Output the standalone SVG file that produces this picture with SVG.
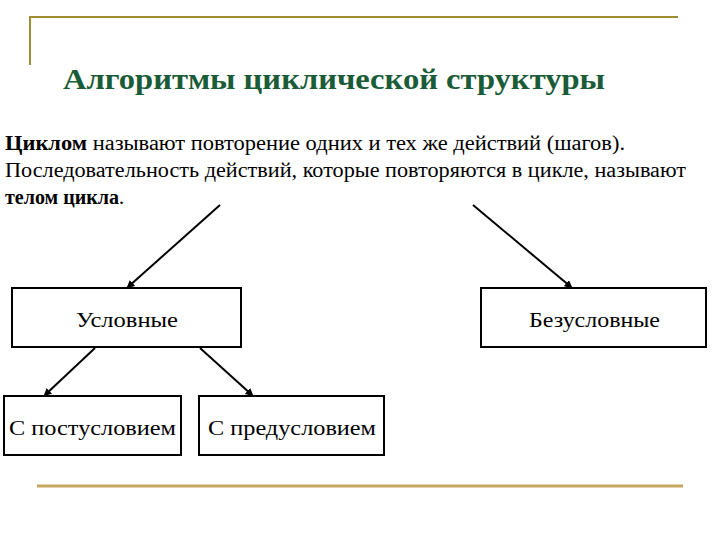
<svg xmlns="http://www.w3.org/2000/svg" width="720" height="540" viewBox="0 0 720 540">
<style>
.t{font-family:"Liberation Serif","Times New Roman","DejaVu Serif",serif;font-size:20px;fill:#000}
.l{font-size:22px}
.b{font-weight:bold}
.box{fill:#fff;stroke:#000;stroke-width:2}
.c line{stroke:#000;stroke-width:2;marker-end:url(#a)}
</style>
<defs><marker id="a" markerWidth="8" markerHeight="8" refX="6" refY="4" orient="auto" markerUnits="userSpaceOnUse"><path d="M0,0 L8,4 L0,8 z" fill="#000"/></marker></defs>
<rect width="720" height="540" fill="#fff"/>
<path d="M30,65 V17 H678" fill="none" stroke="#a08c30" stroke-width="2"/>
<line x1="37" y1="486" x2="683" y2="486" stroke="#c8a860" stroke-width="3"/>
<text x="63" y="89" textLength="542" lengthAdjust="spacingAndGlyphs" font-family="'Liberation Serif','Times New Roman','DejaVu Serif',serif" font-size="29" font-weight="bold" fill="#1a5c38">Алгоритмы циклической структуры</text>
<text class="t" x="5" y="150" textLength="620" lengthAdjust="spacingAndGlyphs"><tspan class="b">Циклом</tspan> называют повторение одних и тех же действий (шагов).</text>
<text class="t" x="5" y="177" textLength="681" lengthAdjust="spacingAndGlyphs">Последовательность действий, которые повторяются в цикле, называют</text>
<text class="t" x="5" y="204"><tspan class="b">телом цикла</tspan>.</text>
<g class="c">
<line x1="220" y1="205" x2="128" y2="287"/>
<line x1="473" y1="205" x2="571" y2="287"/>
<line x1="95" y1="348" x2="45" y2="395"/>
<line x1="200" y1="348" x2="252" y2="395"/>
</g>
<g id="n1"><rect class="box" x="12" y="288" width="229" height="59"/><text class="t l" x="76" y="327" textLength="102" lengthAdjust="spacingAndGlyphs">Условные</text></g>
<g id="n2"><rect class="box" x="481" y="288" width="225" height="59"/><text class="t l" x="529" y="327" textLength="131" lengthAdjust="spacingAndGlyphs">Безусловные</text></g>
<g id="n3"><rect class="box" x="4" y="396" width="177" height="59"/><text class="t l" x="9" y="435" textLength="167" lengthAdjust="spacingAndGlyphs">С постусловием</text></g>
<g id="n4"><rect class="box" x="199" y="396" width="185" height="59"/><text class="t l" x="208" y="435" textLength="168" lengthAdjust="spacingAndGlyphs">С предусловием</text></g>
</svg>
